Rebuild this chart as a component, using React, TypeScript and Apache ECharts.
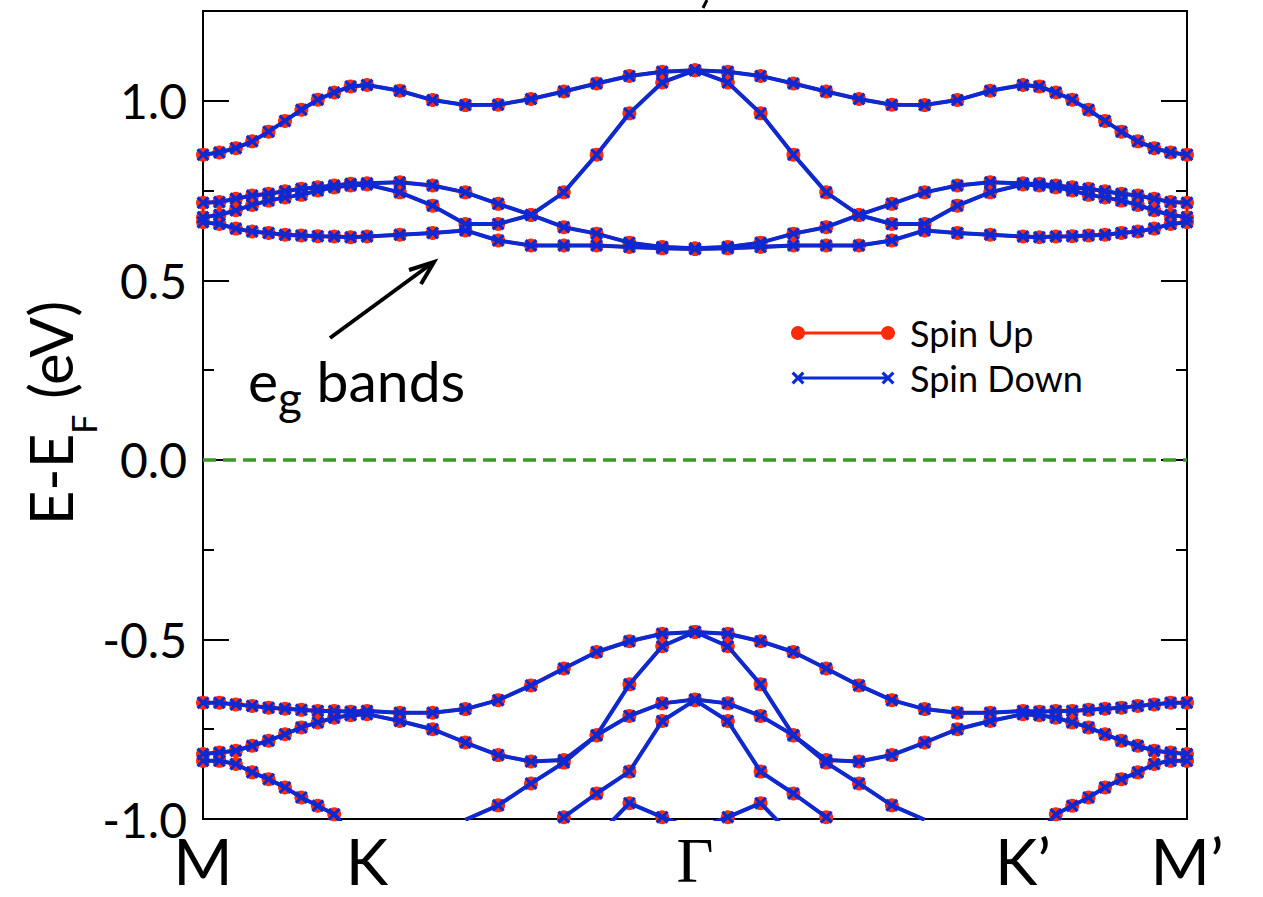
import React, { useEffect, useRef } from "react";
import * as echarts from "echarts";

const N = null;

// k-path coordinates (M -> K -> Γ -> K' -> M')
const kPoints = [
  0, 0.1, 0.2, 0.3, 0.4, 0.5, 0.6, 0.7, 0.8, 0.9, 1.0,
  1.2, 1.4, 1.6, 1.8, 2.0, 2.2, 2.4, 2.6, 2.8, 3.0,
  3.2, 3.4, 3.6, 3.8, 4.0, 4.2, 4.4, 4.6, 4.8, 5.0,
  5.1, 5.2, 5.3, 5.4, 5.5, 5.6, 5.7, 5.8, 5.9, 6.0,
];

const kTickPos = [0, 1, 3, 5, 6];
const kTickNames = ["M", "K", "Γ", "K\u2019", "M\u2019"];

// conduction (e_g) bands
const bandT = [0.850, 0.856, 0.868, 0.887, 0.914, 0.944, 0.975, 1.003, 1.023, 1.040, 1.044, 1.028, 1.002, 0.988, 0.989, 1.005, 1.026, 1.048, 1.069, 1.081, 1.085, 1.081, 1.069, 1.048, 1.026, 1.005, 0.989, 0.988, 1.002, 1.028, 1.044, 1.040, 1.023, 1.003, 0.975, 0.944, 0.914, 0.887, 0.868, 0.856, 0.850];
const bandA = [0.716, 0.718, 0.727, 0.736, 0.741, 0.748, 0.755, 0.759, 0.764, 0.769, 0.770, 0.773, 0.764, 0.745, 0.713, 0.682, 0.648, 0.630, 0.605, 0.593, 0.589, 0.593, 0.605, 0.630, 0.648, 0.682, 0.713, 0.745, 0.764, 0.773, 0.770, 0.769, 0.764, 0.759, 0.755, 0.748, 0.741, 0.736, 0.727, 0.718, 0.716];
const bandB = [0.676, 0.682, 0.695, 0.710, 0.722, 0.731, 0.738, 0.750, 0.759, 0.764, 0.767, 0.745, 0.708, 0.657, 0.657, 0.682, 0.745, 0.850, 0.965, 1.051, 1.085, 1.051, 0.965, 0.850, 0.745, 0.682, 0.657, 0.657, 0.708, 0.745, 0.767, 0.764, 0.759, 0.750, 0.738, 0.731, 0.722, 0.710, 0.695, 0.682, 0.676];
const bandC = [0.662, 0.657, 0.644, 0.636, 0.632, 0.627, 0.625, 0.623, 0.622, 0.620, 0.622, 0.627, 0.632, 0.639, 0.611, 0.597, 0.597, 0.597, 0.593, 0.589, 0.587, 0.589, 0.593, 0.597, 0.597, 0.597, 0.611, 0.639, 0.632, 0.627, 0.622, 0.620, 0.622, 0.623, 0.625, 0.627, 0.632, 0.636, 0.644, 0.657, 0.662];

// valence bands
const bandV1 = [-0.676, -0.676, -0.681, -0.685, -0.690, -0.693, -0.696, -0.699, -0.699, -0.701, -0.699, -0.704, -0.704, -0.694, -0.669, -0.628, -0.581, -0.535, -0.505, -0.484, -0.479, -0.484, -0.505, -0.535, -0.581, -0.628, -0.669, -0.694, -0.704, -0.704, -0.699, -0.701, -0.699, -0.699, -0.696, -0.693, -0.690, -0.685, -0.681, -0.676, -0.676];
const bandV2 = [-0.819, -0.815, -0.810, -0.796, -0.782, -0.764, -0.745, -0.731, -0.718, -0.711, -0.708, -0.727, -0.750, -0.787, -0.822, -0.840, -0.836, -0.767, -0.713, -0.678, -0.667, -0.678, -0.713, -0.767, -0.836, -0.840, -0.822, -0.787, -0.750, -0.727, -0.708, -0.711, -0.718, -0.731, -0.745, -0.764, -0.782, -0.796, -0.810, -0.815, -0.819];
const bandV3 = [-0.838, -0.838, -0.847, -0.870, -0.889, -0.912, -0.940, -0.963, -0.987, -1.04, N, N, N, N, N, N, N, N, N, N, N, N, N, N, N, N, N, N, N, N, N, -1.04, -0.987, -0.963, -0.940, -0.912, -0.889, -0.870, -0.847, -0.838, -0.838];
const bandS = [N, N, N, N, N, N, N, N, N, N, N, N, N, -1.002, -0.962, -0.901, -0.843, -0.767, -0.625, -0.519, -0.479, -0.519, -0.625, -0.767, -0.843, -0.901, -0.962, -1.002, N, N, N, N, N, N, N, N, N, N, N, N, N];
const bandE = [N, N, N, N, N, N, N, N, N, N, N, N, N, N, N, -1.08, -0.995, -0.929, -0.868, -0.727, -0.669, -0.727, -0.868, -0.929, -0.995, -1.08, N, N, N, N, N, N, N, N, N, N, N, N, N, N, N];
const bandF = [N, N, N, N, N, N, N, N, N, N, N, N, N, N, N, N, N, -1.05, -0.956, -0.995, -1.03, -0.995, -0.956, -1.05, N, N, N, N, N, N, N, N, N, N, N, N, N, N, N, N, N];

const bands = [bandT, bandA, bandB, bandC, bandV1, bandV2, bandV3, bandS, bandE, bandF];

const fermiLine = [[0, 0], [6, 0]];

const RED = "#ff2a0a";
const BLUE = "#0b2ad4";
const GREEN = "#3a9a22";
const FONT = "Lato, 'Open Sans', 'DejaVu Sans', sans-serif";
const XPATH = "path://M-6,-4L-4,-6L0,-2L4,-6L6,-4L2,0L6,4L4,6L0,2L-4,6L-6,4L-2,0Z";

function xPoly(cx: number, cy: number, h: number, d: number) {
  return [
    [cx - h, cy - h + d], [cx - h + d, cy - h], [cx, cy - d], [cx + h - d, cy - h],
    [cx + h, cy - h + d], [cx + d, cy], [cx + h, cy + h - d], [cx + h - d, cy + h],
    [cx, cy + d], [cx - h + d, cy + h], [cx - h, cy + h - d], [cx - d, cy],
  ];
}

export default function App() {
  const ref = useRef<HTMLDivElement>(null);
  useEffect(() => {
    if (!ref.current) return;
    const chart = echarts.init(ref.current, null, { renderer: "svg" });
    const toData = (b: (number | null)[]) => kPoints.map((x, i) => [x, b[i] === null ? "-" : b[i]]);

    const redSeries = bands.map((b) => ({
      type: "line",
      name: "Spin Up",
      data: toData(b),
      symbol: "circle",
      symbolSize: 14,
      itemStyle: { color: RED },
      lineStyle: { color: RED, width: 3.5 },
      z: 2,
      silent: true,
      emphasis: { disabled: true },
      connectNulls: false,
    }));
    const blueSeries = bands.map((b) => ({
      type: "line",
      name: "Spin Down",
      data: toData(b),
      symbol: XPATH,
      symbolSize: 13,
      itemStyle: { color: BLUE },
      lineStyle: { color: BLUE, width: 4 },
      z: 3,
      silent: true,
      emphasis: { disabled: true },
      connectNulls: false,
    }));

    const yCommon = { type: "value", min: -1, max: 1.25, splitLine: { show: false } };

    const option: any = {
      animation: false,
      backgroundColor: "#ffffff",
      grid: {
        left: 203, top: 11, width: 984, height: 808,
        show: true, borderColor: "#000", borderWidth: 2,
        containLabel: false, outerBoundsMode: "none",
      },
      xAxis: {
        type: "value", min: 0, max: 6, interval: 1,
        axisLine: { show: true, onZero: false, lineStyle: { color: "#000", width: 2 } },
        axisTick: { show: false },
        splitLine: { show: false },
        axisLabel: {
          margin: 8, fontSize: 64, lineHeight: 66, fontFamily: FONT, color: "#000",
          formatter: (v: number) => {
            const i = kTickPos.indexOf(v);
            if (i < 0) return "";
            return kTickNames[i] === "Γ" ? "{g|Γ}" : kTickNames[i];
          },
          rich: { g: { fontFamily: "'Liberation Serif', 'DejaVu Serif', serif", fontSize: 64, lineHeight: 66, color: "#000" } },
        },
      },
      yAxis: [
        {
          ...yCommon, interval: 0.5, position: "left",
          axisLine: { show: true, onZero: false, lineStyle: { color: "#000", width: 2 } },
          axisTick: { show: true, inside: true, length: 26, lineStyle: { color: "#000", width: 2 } },
          axisLabel: {
            margin: 16, fontSize: 48, fontFamily: FONT, color: "#000", showMaxLabel: false,
            formatter: (v: number) => (Math.abs(v * 2 - Math.round(v * 2)) < 1e-6 ? v.toFixed(1) : ""),
          },
        },
        {
          ...yCommon, interval: 0.25, position: "left",
          axisLine: { show: false, onZero: false },
          axisTick: { show: true, inside: true, length: 11, lineStyle: { color: "#000", width: 2 } },
          axisLabel: { show: false },
        },
        {
          ...yCommon, interval: 0.5, position: "right",
          axisLine: { show: true, onZero: false, lineStyle: { color: "#000", width: 2 } },
          axisTick: { show: true, inside: true, length: 26, lineStyle: { color: "#000", width: 2 } },
          axisLabel: { show: false },
        },
        {
          ...yCommon, interval: 0.25, position: "right",
          axisLine: { show: false, onZero: false },
          axisTick: { show: true, inside: true, length: 11, lineStyle: { color: "#000", width: 2 } },
          axisLabel: { show: false },
        },
      ],
      series: [
        {
          type: "line", data: fermiLine, symbol: "none", silent: true, z: 5,
          lineStyle: { color: GREEN, width: 3.5, type: [13, 7] },
        },
        ...redSeries,
        ...blueSeries,
      ],
      graphic: [
        // legend
        { type: "line", shape: { x1: 798, y1: 333, x2: 888, y2: 333 }, style: { stroke: RED, lineWidth: 3 }, z: 100 },
        { type: "circle", shape: { cx: 798, cy: 333, r: 7 }, style: { fill: RED }, z: 100 },
        { type: "circle", shape: { cx: 888, cy: 333, r: 7 }, style: { fill: RED }, z: 100 },
        { type: "text", x: 910, y: 333, style: { text: "Spin Up", fontSize: 36, fontFamily: FONT, fill: "#000", textVerticalAlign: "middle", verticalAlign: "middle" }, z: 100 },
        { type: "line", shape: { x1: 798, y1: 378, x2: 888, y2: 378 }, style: { stroke: BLUE, lineWidth: 3 }, z: 100 },
        { type: "polygon", shape: { points: xPoly(798, 378, 6.5, 2.2) }, style: { fill: BLUE }, z: 100 },
        { type: "polygon", shape: { points: xPoly(888, 378, 6.5, 2.2) }, style: { fill: BLUE }, z: 100 },
        { type: "text", x: 910, y: 378, style: { text: "Spin Down", fontSize: 36, fontFamily: FONT, fill: "#000", textVerticalAlign: "middle", verticalAlign: "middle" }, z: 100 },
        // annotation arrow
        { type: "line", shape: { x1: 330, y1: 338, x2: 431, y2: 264 }, style: { stroke: "#000", lineWidth: 4 }, z: 100 },
        { type: "polyline", shape: { points: [[409, 270], [434, 262], [421, 284]] }, style: { stroke: "#000", lineWidth: 4, fill: "none" }, z: 100 },
        {
          type: "text", x: 248, y: 380, z: 100,
          style: {
            text: "{a|e}{b|g}{a| bands}",
            fill: "#000", textAlign: "left", align: "left", textVerticalAlign: "middle", verticalAlign: "middle",
            rich: {
              a: { fontSize: 57, fontFamily: FONT, lineHeight: 80, fill: "#000", color: "#000" },
              b: { fontSize: 46, fontFamily: FONT, lineHeight: 46, verticalAlign: "bottom", fill: "#000", color: "#000" },
            },
          },
        },
        // y axis name
        {
          type: "text", x: 50, y: 413, rotation: Math.PI / 2, z: 100,
          style: {
            text: "{m|E-E}{s|F}{m| (eV)}",
            fill: "#000", textAlign: "center", align: "center", textVerticalAlign: "middle", verticalAlign: "middle",
            rich: {
              m: { fontSize: 60, fontFamily: FONT, lineHeight: 100, fill: "#000", color: "#000" },
              s: { fontSize: 34, fontFamily: FONT, lineHeight: 34, verticalAlign: "bottom", fill: "#000", color: "#000" },
            },
          },
        },
        // fragment of cut-off title at top
        { type: "line", shape: { x1: 707, y1: 0, x2: 703, y2: 8 }, style: { stroke: "#000", lineWidth: 3 }, z: 100 },
      ],
    };
    chart.setOption(option);
    return () => chart.dispose();
  }, []);
  return (
    <div
      ref={ref}
      style={{ position: "fixed", left: 0, top: 0, width: 1263, height: 897, background: "#fff" }}
    />
  );
}
